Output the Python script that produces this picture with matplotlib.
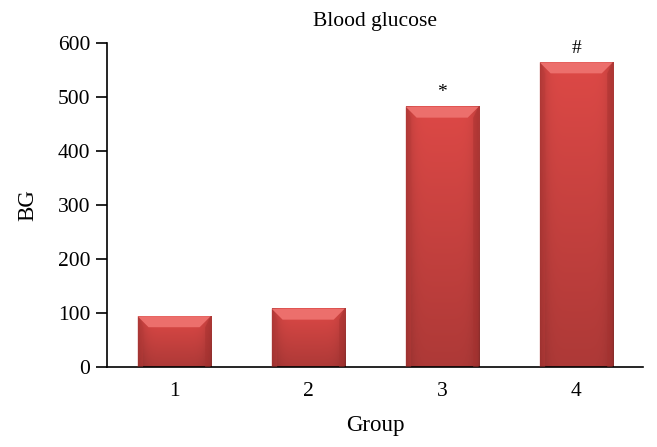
import matplotlib
matplotlib.use("Agg")
import matplotlib.pyplot as plt
import numpy as np
from matplotlib.patches import Polygon

groups = ["1", "2", "3", "4"]
bg = [94, 108, 482, 564]
marks = ["", "", "*", "#"]

plt.rcParams['font.family'] = ['Liberation Serif', 'DejaVu Serif']

fig = plt.figure(figsize=(6.57, 4.47), dpi=100)
ax = fig.add_axes([0.163, 0.179, 0.816, 0.725])

x = np.arange(1, len(groups) + 1)
bars = ax.bar(x, bg, width=0.545, color='none', edgecolor='none', zorder=2)

ax.set_xlim(0.5, 4.5)
ax.set_ylim(0, 600)
ax.set_yticks(np.arange(0, 601, 100))
ax.set_xticks(x)
ax.set_xticklabels(groups)

# shaded fill: darker at sides and towards the bottom
nx, ny = 120, 200
xs = np.linspace(-1, 1, nx)
ys = np.linspace(0, 1, ny)[:, None]
side = 1 - 0.22 * np.abs(xs) ** 6
vert = 0.80 + 0.22 * ys
shade = side[None, :] * vert
base = np.array([0.85, 0.28, 0.27])
img = np.clip(shade[:, :, None] * base[None, None, :], 0, 1)

fig.canvas.draw()
inv = ax.transData.inverted()
p0 = inv.transform((0, 0))
p1 = inv.transform((11, 11))
dx, dy = p1 - p0

for b, m in zip(bars, marks):
    x0, w, h = b.get_x(), b.get_width(), b.get_height()
    ax.imshow(img, extent=(x0, x0 + w, 0, h), origin='lower', aspect='auto',
              zorder=2, interpolation='bilinear')
    top = Polygon([(x0, h), (x0 + w, h), (x0 + w - dx, h - dy), (x0 + dx, h - dy)],
                  closed=True, facecolor='#ec6f6c', edgecolor='none', zorder=3)
    ax.add_patch(top)
    left = Polygon([(x0, 0), (x0, h), (x0 + dx * 0.5, h - dy), (x0 + dx * 0.5, 0)],
                   closed=True, facecolor='#b83a38', edgecolor='none', alpha=0.45, zorder=3)
    right = Polygon([(x0 + w, 0), (x0 + w, h), (x0 + w - dx * 0.5, h - dy), (x0 + w - dx * 0.5, 0)],
                    closed=True, facecolor='#a83230', edgecolor='none', alpha=0.5, zorder=3)
    ax.add_patch(left)
    ax.add_patch(right)
    if m:
        ax.text(b.get_x() + w / 2, h + 10, m, ha='center', va='bottom', fontsize=14)

ax.set_xlim(0.5, 4.5)
ax.set_ylim(0, 600)

for s in ['top', 'right']:
    ax.spines[s].set_visible(False)
ax.spines['left'].set_linewidth(1.2)
ax.spines['bottom'].set_linewidth(1.2)
ax.tick_params(axis='y', length=8, width=1.2, labelsize=15.5, pad=4)
ax.tick_params(axis='x', length=0, labelsize=15.5, pad=11)

ax.set_title("Blood glucose", fontsize=15.5, pad=12)
ax.set_ylabel("BG", fontsize=16.5, labelpad=14)
ax.set_xlabel("Group", fontsize=16.5, labelpad=10)

fig.savefig("out.png", dpi=100)
